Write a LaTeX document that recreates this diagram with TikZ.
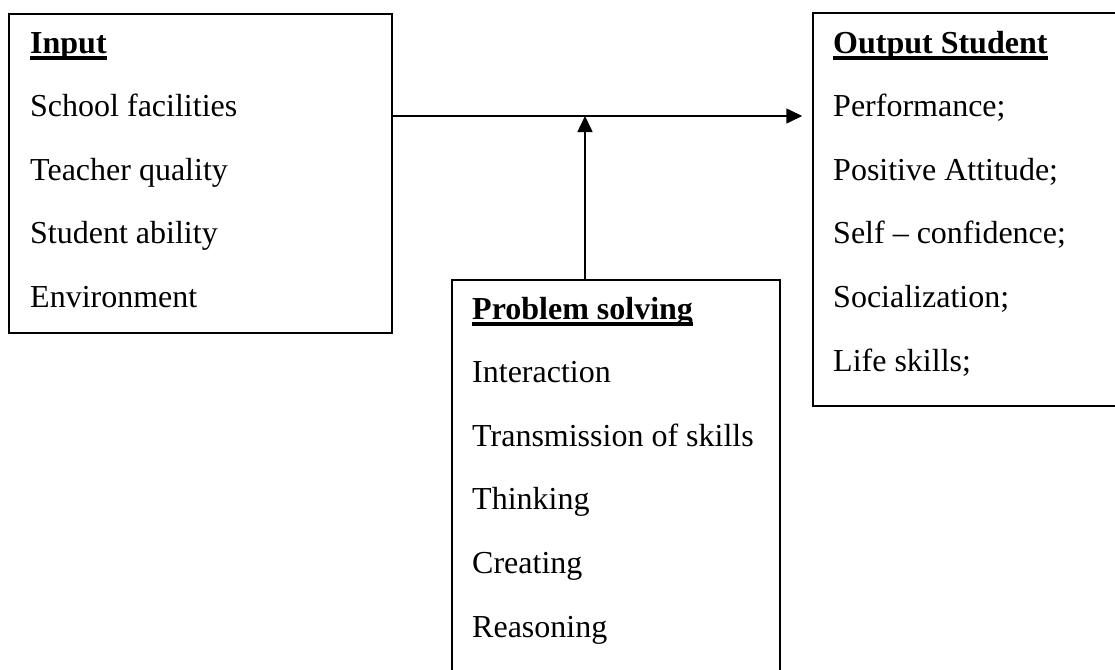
\documentclass[tikz,border=0pt]{standalone}
\usepackage{fontspec}
\setmainfont{Liberation Serif}
\usetikzlibrary{arrows.meta}

% bold heading with a thick rule underneath
\newcommand{\hdline}[1]{\leavevmode\setbox0\hbox{\bfseries #1}%
  \rlap{\raisebox{-7pt}{\rule{\wd0}{3.6pt}}}\box0}

\tikzset{
  panel/.style={draw, line width=1.5pt, rectangle, inner sep=0pt},
  items/.style={inner sep=0pt, anchor=base west},
  link/.style={line width=1.5pt, -{Triangle[length=16pt,width=15pt]}},
}

\newcommand{\itemlist}[1]{\parbox[t]{320pt}{\raggedright
  \fontsize{32}{63.6}\selectfont #1}}

\begin{document}
\begin{tikzpicture}[x=1pt,y=-1pt]
  \useasboundingbox (0,0) rectangle (1115,669);

  % three panels
  \node[panel, minimum width=383pt, minimum height=319pt] (in) at (200.5,173.5) {};
  \node[panel, minimum width=310pt, minimum height=393pt] (out) at (968,209.5) {};
  \node[panel, minimum width=328pt, minimum height=400pt] (prob) at (616,480) {};

  % panel contents
  \node[items] (intext) at (30,53) {\itemlist{\hdline{Input}\\
    School facilities\\ Teacher quality\\ Student ability\\ Environment}};
  \node[items] (outtext) at (833,53) {\itemlist{\hdline{Output Student}\\
    Performance;\\ Positive Attitude;\\ Self -- confidence;\\ Socialization;\\ Life skills;}};
  \node[items] (probtext) at (472,319) {\itemlist{\hdline{Problem solving}\\
    Interaction\\ Transmission of skills\\ Thinking\\ Creating\\ Reasoning}};

  % connectors
  \coordinate (j) at (585,116);
  \draw[link] (in.east |- j) -- ([xshift=-10pt]out.west |- j);
  \draw[link] (prob.north -| j) -- (j);
\end{tikzpicture}
\end{document}
